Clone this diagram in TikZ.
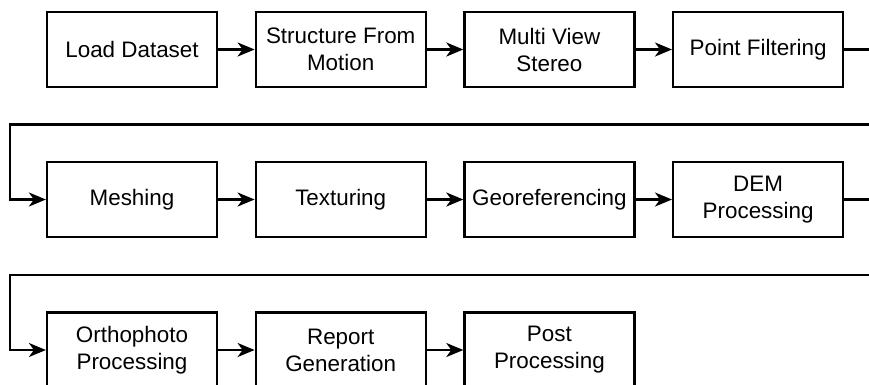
\documentclass[tikz,border=0pt]{standalone}
\usepackage{fontspec}
\setmainfont{Liberation Sans}
\usetikzlibrary{positioning,arrows.meta}
\begin{document}
\begin{tikzpicture}[x=1pt, y=-1pt, node distance=36.5pt,
  line width=2.2pt, >={Stealth[length=17pt,width=14pt,inset=5pt]},
  every node/.style = {shape=rectangle, draw, align=center, inner sep=2pt,
    minimum width=170pt, minimum height=75pt,
    font=\fontsize{22.4}{27}\selectfont}]
  \useasboundingbox (0,0) rectangle (869,384);
  \node (load) at (132,49.5) {Load Dataset};
  \node (sfm) [right=of load] {Structure From\\Motion};
  \node (mvs) [right=of sfm] {Multi View\\Stereo};
  \node (filter) [right=of mvs] {Point Filtering};
  \node (mesh) at (132,199.5) {Meshing};
  \node (tex) [right=of mesh] {Texturing};
  \node (geo) [right=of tex] {Georeferencing};
  \node (dem) [right=of geo] {DEM\\Processing};
  \node (ortho) at (132,350) {Orthophoto\\Processing};
  \node (report) [right=of ortho] {Report\\Generation};
  \node (post) [right=of report] {Post\\Processing};
  \coordinate (r1) at (890,124.5);
  \coordinate (l1) at (10,124.5);
  \coordinate (r2) at (890,275);
  \coordinate (l2) at (10,275);
  \draw[->] (load) -- (sfm);
  \draw[->] (sfm) -- (mvs);
  \draw[->] (mvs) -- (filter);
  \draw[->] (filter.east) -| (r1) -- (l1) |- (mesh.west);
  \draw[->] (mesh) -- (tex);
  \draw[->] (tex) -- (geo);
  \draw[->] (geo) -- (dem);
  \draw[->] (dem.east) -| (r2) -- (l2) |- (ortho.west);
  \draw[->] (ortho) -- (report);
  \draw[->] (report) -- (post);
\end{tikzpicture}
\end{document}
